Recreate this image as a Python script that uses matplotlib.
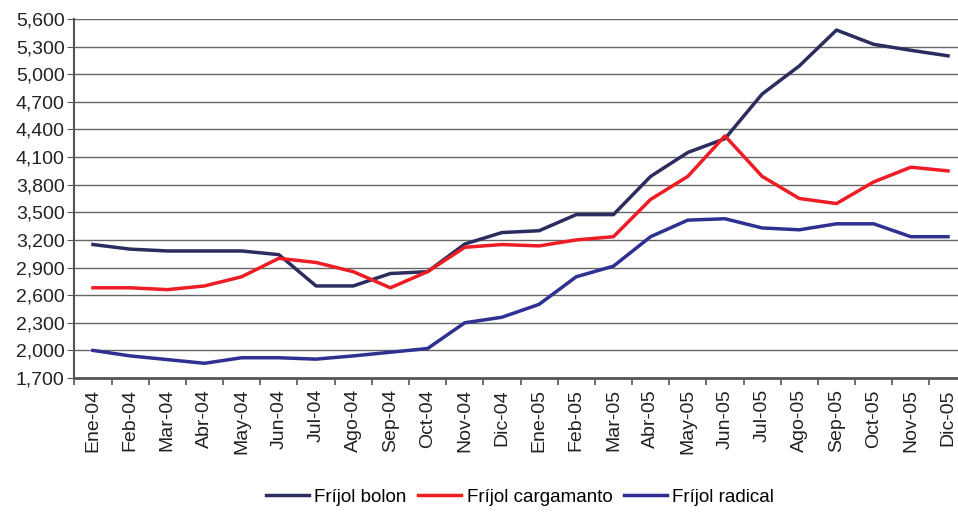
import matplotlib
matplotlib.use("Agg")
import matplotlib.pyplot as plt
from matplotlib.ticker import FuncFormatter

meses = ["Ene-04", "Feb-04", "Mar-04", "Abr-04", "May-04", "Jun-04", "Jul-04", "Ago-04",
         "Sep-04", "Oct-04", "Nov-04", "Dic-04", "Ene-05", "Feb-05", "Mar-05", "Abr-05",
         "May-05", "Jun-05", "Jul-05", "Ago-05", "Sep-05", "Oct-05", "Nov-05", "Dic-05"]

bolon = [3150, 3100, 3080, 3080, 3080, 3040, 2700, 2700, 2835, 2855, 3155, 3280,
         3300, 3475, 3475, 3890, 4150, 4300, 4785, 5090, 5480, 5325, 5260, 5200]
cargamanto = [2680, 2680, 2660, 2700, 2800, 3000, 2955, 2855, 2680, 2855, 3120, 3150,
              3135, 3200, 3235, 3640, 3890, 4330, 3890, 3650, 3595, 3830, 3990, 3950]
radical = [2000, 1940, 1900, 1860, 1920, 1920, 1905, 1940, 1980, 2020, 2300, 2360,
           2500, 2800, 2915, 3235, 3415, 3430, 3330, 3310, 3375, 3375, 3235, 3235]

plt.rcParams['font.family'] = ['Liberation Sans', 'DejaVu Sans']

fig = plt.figure(figsize=(9.58, 5.12), dpi=100)
ax = fig.add_axes([74.4 / 958, 134 / 512, 892.2 / 958, 359 / 512])

x = range(len(meses))
ax.plot(x, bolon, color='#2b2d5e', lw=2.5, label='Fríjol bolon')
ax.plot(x, cargamanto, color='#ee1c25', lw=2.5, label='Fríjol cargamanto')
ax.plot(x, radical, color='#2e3192', lw=2.5, label='Fríjol radical')

ax.set_xlim(-0.5, len(meses) - 0.5)
ax.set_ylim(1700, 5600)
ax.set_yticks(range(1700, 5601, 300))
ax.yaxis.set_major_formatter(FuncFormatter(lambda v, p: f"{int(v):,}"))
ax.grid(axis='y', color='#666666', lw=1)
ax.set_axisbelow(True)

ax.set_xticks(list(x))
ax.set_xticklabels(meses, rotation=90, fontsize=14, color='#222222')
ax.set_xticks([i + 0.5 for i in range(-1, len(meses))], minor=True)
ax.tick_params(axis='x', which='major', length=0, pad=8)
ax.tick_params(axis='x', which='minor', length=5, color='#555555', width=1.2)
ax.tick_params(axis='y', length=5, color='#555555', labelsize=14, labelcolor='#222222', pad=2)

for s in ['top', 'right']:
    ax.spines[s].set_visible(False)
ax.spines['left'].set_color('#555555')
ax.spines['left'].set_linewidth(1.5)
ax.spines['bottom'].set_color('#555555')
ax.spines['bottom'].set_linewidth(2)

fig.legend(loc='center', bbox_to_anchor=(520 / 958, 1 - 497 / 512), ncol=3, frameon=False,
           fontsize=13.5, handlelength=2.3, handletextpad=0.3, columnspacing=0.6)

fig.savefig('out.png', dpi=100)
